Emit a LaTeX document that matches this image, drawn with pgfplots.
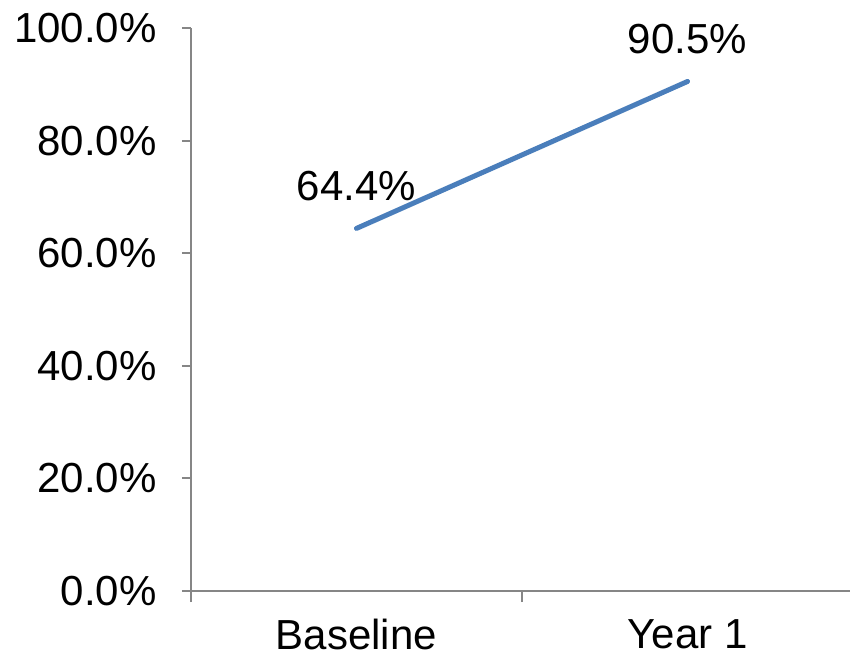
\documentclass[border=0pt]{standalone}
\usepackage{fontspec}
\setmainfont{Liberation Sans}
\usepackage{pgfplots}
\pgfplotsset{compat=1.18}

\definecolor{axisgray}{HTML}{868686}
\definecolor{lineblue}{HTML}{4A7EBB}

\begin{document}
\begin{tikzpicture}
\useasboundingbox (-191pt,-69pt) rectangle (659pt,591pt);
\begin{axis}[
  scale only axis,
  width=662pt, height=563pt,
  anchor=south west,
  font=\fontsize{42}{49}\selectfont,
  xmin=-0.5, xmax=1.5,
  ymin=0, ymax=100,
  enlargelimits=false,
  axis x line*=bottom,
  axis y line*=left,
  axis line style={axisgray, line width=2.5pt, -},
  tick style={axisgray, line width=2pt},
  tick align=outside,
  xtick={0,1},
  xticklabels={Baseline, Year 1},
  major x tick style={draw=none},
  minor xtick={-0.5,0.5,1.5},
  minor tick length=11pt,
  ytick={0,20,40,60,80,100},
  major tick length=9pt,
  /pgf/number format/assume math mode=true,
  yticklabel={\pgfmathprintnumber[fixed,fixed zerofill,precision=1]{\tick}\%},
  yticklabel style={xshift=-22pt},
  xticklabel style={yshift=-16pt},
  nodes near coords={\pgfmathprintnumber[fixed,fixed zerofill,precision=1]{\pgfplotspointmeta}\%},
  every node near coord/.append style={anchor=base, inner sep=0pt, yshift=28pt, text=black},
  clip=false,
]
\addplot[lineblue, line width=5pt, line cap=round, mark=none] coordinates {
  (0,64.4) (1,90.5)
};
\end{axis}
\end{tikzpicture}
\end{document}
